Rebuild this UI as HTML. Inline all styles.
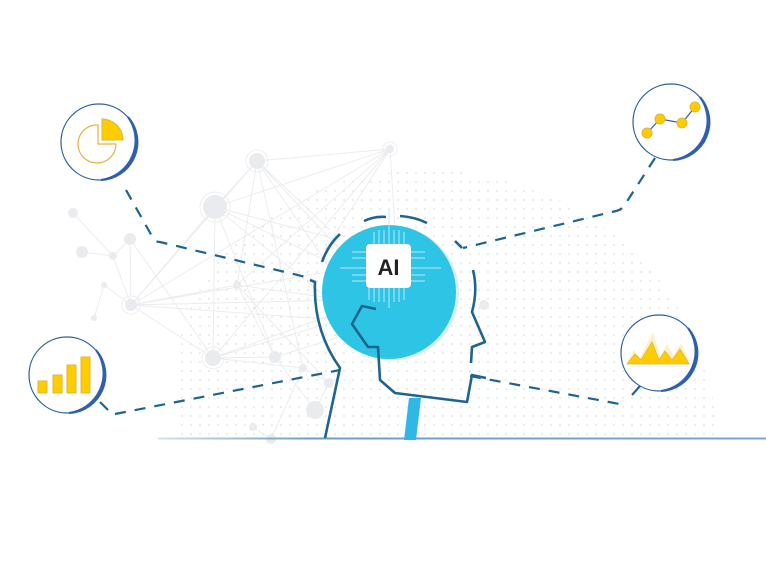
<!DOCTYPE html>
<html><head><style>html,body{margin:0;padding:0;background:#fff;}svg{display:block}</style></head>
<body>
<svg width="766" height="588" viewBox="0 0 766 588" xmlns="http://www.w3.org/2000/svg">
<defs>
<pattern id="dots" width="9" height="9" patternUnits="userSpaceOnUse"><circle cx="2" cy="2" r="1" fill="#d8dbdf"/></pattern>
<clipPath id="dome"><path d="M175 440 L175 360 Q200 230 330 185 Q450 150 560 200 Q700 270 720 440 Z"/></clipPath>
<linearGradient id="gl" x1="0" x2="1" y1="0" y2="0"><stop offset="0" stop-color="#6f9fbd" stop-opacity="0.3"/><stop offset="0.25" stop-color="#6f9fbd"/><stop offset="1" stop-color="#7aa8c4"/></linearGradient>
</defs>
<rect x="170" y="160" width="560" height="280" fill="url(#dots)" clip-path="url(#dome)" opacity="0.7"/>
<g stroke="#ebecee" stroke-width="1" fill="none">
<path d="M73 213 L113 256 L130 239 L131 305 M82 252 L113 256 L131 305 M104 285 L94 318 M104 285 L131 305"/>
<path d="M131 305 L215 207 M131 305 L257 161 M131 305 L390 149 M131 305 L340 270 M131 305 L345 300 M131 305 L340 320 M131 305 L213 358 M131 305 L237 285 M130 239 L213 358"/>
<path d="M215 207 L257 161 M215 207 L390 149 M215 207 L340 240 M215 207 L345 270 M215 207 L213 358 M215 207 L275 357 M215 207 L330 300"/>
<path d="M257 161 L390 149 M257 161 L330 230 M257 161 L350 260 M257 161 L237 285 M257 161 L303 368 M257 161 L345 290"/>
<path d="M390 149 L237 285 M390 149 L213 358 M390 149 L395 230 M390 149 L325 250"/>
<path d="M237 285 L345 300 M237 285 L275 357 M237 285 L329 383 M213 358 L340 320 M213 358 L275 357 M213 358 L303 368 M275 357 L345 335 M275 357 L315 410 M303 368 L271 439 M303 368 L329 383 M329 383 L315 410 M253 427 L271 439 M213 358 L345 310"/>
</g>
<g fill="#eaebee">
<circle cx="215" cy="207" r="12"/><circle cx="257" cy="161" r="8"/><circle cx="390" cy="149" r="4"/>
<circle cx="130" cy="239" r="6"/><circle cx="82" cy="252" r="6"/><circle cx="73" cy="213" r="5"/><circle cx="113" cy="256" r="4"/>
<circle cx="131" cy="305" r="6"/><circle cx="104" cy="285" r="3"/><circle cx="94" cy="318" r="3"/><circle cx="237" cy="285" r="4"/>
<circle cx="213" cy="358" r="8"/><circle cx="275" cy="357" r="6"/><circle cx="315" cy="410" r="9"/><circle cx="329" cy="383" r="5"/>
<circle cx="303" cy="368" r="4"/><circle cx="271" cy="439" r="5"/><circle cx="253" cy="427" r="4"/><circle cx="484" cy="305" r="5"/>
</g>
<g fill="none" stroke="#eceef0"><circle cx="215" cy="207" r="15"/><circle cx="257" cy="161" r="11"/><circle cx="131" cy="305" r="9"/><circle cx="213" cy="358" r="11"/><circle cx="390" cy="149" r="7"/></g>
<rect x="158" y="437.5" width="608" height="2" fill="url(#gl)"/>
<path d="M404 440 L409 398 L421 398 L416 440 Z" fill="#2fb8e6"/>
<circle cx="392" cy="293" r="67" fill="#d6ecf8"/>
<circle cx="389" cy="292" r="67" fill="#2ec4e6"/>
<g stroke="#bfe9f6" stroke-width="1">
<path d="M374 232 v12 M379 230 v14 M384 230 v14 M389 210 v34 M394 230 v14 M399 230 v14 M404 232 v12"/>
<path d="M369 288 v12 M374 288 v14 M379 288 v14 M384 288 v14 M389 288 v20 M394 288 v14 M399 288 v14 M404 288 v12"/>
<path d="M352 252 h14 M352 258 h14 M340 268 h26 M352 275 h14 M352 281 h14 M411 252 h14 M411 258 h14 M411 268 h30 M411 275 h14 M411 281 h14"/>
</g>
<rect x="366" y="244" width="45" height="44" rx="4" fill="#fff"/>
<text x="388.5" y="275" text-anchor="middle" font-family="Liberation Sans, sans-serif" font-size="22" font-weight="bold" fill="#222">AI</text>
<g fill="none" stroke="#1d6590" stroke-width="2.6" stroke-linecap="butt" stroke-linejoin="round">
<path d="M310 280 L315 282 Q313 330 340 368 L325 438"/>
<path d="M376 309 L362 306 L352 324 L368 347 L378 347 L380 380 L395 393 L467 402 L472 375 L486 378"/>
<path d="M473 270 Q478 290 472 312 L485 342 L472 347 L471 363"/>
<path d="M322 262 Q328 245 340 234 M364 221 Q375 216 386 217 M400 216 Q415 217 427 223 M455 241 L462 248"/>
</g>
<g fill="none" stroke="#1d6590" stroke-width="2.2" stroke-dasharray="11 9">
<path d="M126 190 L153 238 Q155 242 160 242 L310 278"/>
<path d="M655 158 L624 206 Q621 210 616 211 L463 248"/>
<path d="M115 414 L340 370"/>
<path d="M470 376 L625 405"/>
</g>
<line x1="100" y1="402" x2="108" y2="410" stroke="#1d6590" stroke-width="2.2"/>
<line x1="632" y1="395" x2="640" y2="386" stroke="#1d6590" stroke-width="2.2"/>
<g>
<circle cx="99" cy="142" r="38" fill="#fff" stroke="#2a5f9a" stroke-width="1.2"/>
<path d="M128 117 A38 38 0 0 1 101 180 A40 40 0 0 0 128 117 Z" fill="#2f5fae" stroke="#2f5fae" stroke-width="2"/>
<path d="M98 125 A19 19 0 1 0 116 144 L98 144 Z" fill="none" stroke="#e2b43c" stroke-width="1.2"/>
<path d="M102 119 A21 21 0 0 1 123 140 L102 140 Z" fill="#ffcc00" stroke="#e2b43c"/>
<circle cx="671" cy="122" r="38" fill="#fff" stroke="#2a5f9a" stroke-width="1.2"/>
<path d="M700 97 A38 38 0 0 1 673 160 A40 40 0 0 0 700 97 Z" fill="#2f5fae" stroke="#2f5fae" stroke-width="2"/>
<path d="M647 133 L660 119 L682 123 L695 107" fill="none" stroke="#2a5f9a" stroke-width="1.2"/>
<g fill="#ffcc00" stroke="#e2b43c"><circle cx="647" cy="133" r="5"/><circle cx="660" cy="119" r="5"/><circle cx="682" cy="123" r="5"/><circle cx="695" cy="107" r="5"/></g>
<circle cx="67" cy="375" r="38" fill="#fff" stroke="#2a5f9a" stroke-width="1.2"/>
<path d="M96 350 A38 38 0 0 1 69 413 A40 40 0 0 0 96 350 Z" fill="#2f5fae" stroke="#2f5fae" stroke-width="2"/>
<g fill="#ffcc00" stroke="#e2b43c"><rect x="38" y="381" width="9" height="12"/><rect x="53" y="375" width="9" height="18"/><rect x="67" y="365" width="9" height="28"/><rect x="81" y="357" width="9" height="36"/></g>
<circle cx="659" cy="353" r="38" fill="#fff" stroke="#2a5f9a" stroke-width="1.2"/>
<path d="M688 328 A38 38 0 0 1 661 391 A40 40 0 0 0 688 328 Z" fill="#2f5fae" stroke="#2f5fae" stroke-width="2"/>
<path d="M626 364 L634 350 L640 358 L653 332 L660 356 L667 344 L674 356 L681 343 L690 364 Z" fill="#fdf0c4"/>
<path d="M627 364 L635 354 L641 360 L652 342 L659 360 L665 351 L672 360 L680 349 L689 364 Z" fill="#ffcc00" stroke="#e2b43c" stroke-width="0.8"/>
</g>
</svg>
</body></html>
